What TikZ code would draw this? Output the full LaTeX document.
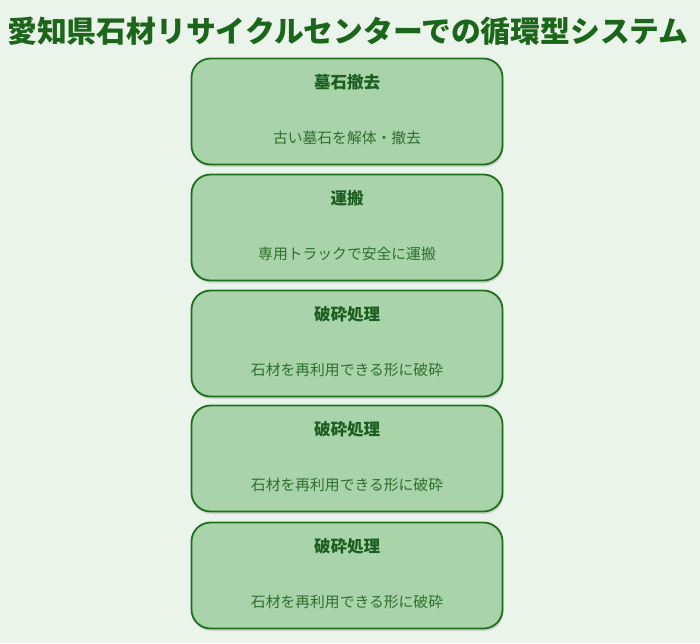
\documentclass[tikz,border=0pt]{standalone}
\usepackage{fontspec}
\newfontfamily\cjk{Noto Sans CJK JP}
\usetikzlibrary{shadows}
\definecolor{bgc}{HTML}{EAF4EA}
\definecolor{boxfill}{HTML}{A9D3A9}
\definecolor{boxline}{HTML}{1E6E1E}
\definecolor{titlec}{HTML}{1B661B}
\definecolor{headc}{HTML}{1B5E20}
\definecolor{subc}{HTML}{2F6F2F}
\tikzset{
  stepbox/.style={draw=boxline, line width=1.8pt, fill=boxfill, rounded corners=19pt,
    minimum width=311pt, minimum height=106pt, inner sep=0pt,
    drop shadow={opacity=0.25, shadow xshift=1pt, shadow yshift=-2.5pt}},
  headtxt/.style={font=\cjk\bfseries\fontsize{16.5pt}{18pt}\selectfont, text=headc, inner sep=0pt},
  subtxt/.style={font=\cjk\fontsize{14.8pt}{16pt}\selectfont, text=subc, inner sep=0pt},
  titletxt/.style={font=\cjk\bfseries\fontsize{29.8pt}{32pt}\selectfont, text=titlec, inner sep=0pt}
}
\begin{document}
\begin{tikzpicture}[x=1pt,y=-1pt]
\fill[bgc] (0,0) rectangle (700,643);
\useasboundingbox (0,0) rectangle (700,643);
\node[titletxt] (title) at (348,31) {愛知県石材リサイクルセンターでの循環型システム};
\node[stepbox] (b1) at (347,111.5) {};
\node[headtxt] (h1) at (347,82) {墓石撤去};
\node[subtxt] (s1) at (347,138) {古い墓石を解体・撤去};
\node[stepbox] (b2) at (347,227.5) {};
\node[headtxt] (h2) at (347,198) {運搬};
\node[subtxt] (s2) at (347,254) {専用トラックで安全に運搬};
\node[stepbox] (b3) at (347,343.5) {};
\node[headtxt] (h3) at (347,314) {破砕処理};
\node[subtxt] (s3) at (347,370) {石材を再利用できる形に破砕};
\node[stepbox] (b4) at (347,458.5) {};
\node[headtxt] (h4) at (347,429) {破砕処理};
\node[subtxt] (s4) at (347,485) {石材を再利用できる形に破砕};
\node[stepbox] (b5) at (347,575.5) {};
\node[headtxt] (h5) at (347,546) {破砕処理};
\node[subtxt] (s5) at (347,602) {石材を再利用できる形に破砕};
\end{tikzpicture}
\end{document}
